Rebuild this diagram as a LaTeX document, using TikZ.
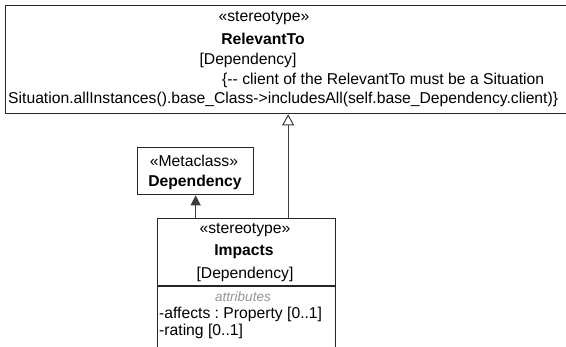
\documentclass[tikz,border=0pt]{standalone}
\usepackage{fontspec}
\setmainfont{Liberation Sans}
\usepackage{xcolor}
\usepackage{tikz}
\usetikzlibrary{arrows.meta, positioning}
\definecolor{linegray}{RGB}{60, 60, 60}
\definecolor{attrgray}{RGB}{150, 150, 150}
\frenchspacing

\begin{document}
\begin{tikzpicture}[x=1pt, y=-1pt,
    umlbox/.style={rectangle, draw=black!85, fill=white, line width=1.3pt, anchor=north west, inner sep=0pt},
    txt/.style={inner sep=0pt, font=\fontsize{15.7}{17}\selectfont},
    boldtxt/.style={inner sep=0pt, font=\fontsize{15.7}{17}\selectfont\bfseries},
    attrtxt/.style={inner sep=0pt, text=attrgray, font=\fontsize{13.5}{15}\selectfont\itshape},
    extends/.style={draw=linegray, line width=1pt, -{Triangle[length=10pt, width=10pt]}},
    realizes/.style={draw=linegray, line width=1pt, -{Triangle[open, length=11pt, width=12pt, fill=white]}}]

    \useasboundingbox (0,0) rectangle (566,347);
    \clip (0,0) rectangle (566,347);

    % Stereotype RelevantTo
    \node[umlbox, minimum width=565pt, minimum height=108pt] (relevant) at (5,5) {};
    \node[txt] (rel_st) at (264,18) {«stereotype»};
    \node[boldtxt] (rel_name) at (263,39) {RelevantTo};
    \node[txt] (rel_base) at (248,60) {[Dependency]};
    \node[txt, anchor=west] (rel_c1) at (222,80) {\{{-}{-} client of the RelevantTo must be a Situation};
    \node[txt, anchor=west] (rel_c2) at (8,99) {Situation.allInstances().base\_Class->includesAll(self.base\_Dependency.client)\}};

    % Metaclass Dependency
    \node[umlbox, minimum width=116pt, minimum height=47pt] (dep) at (137,147) {};
    \node[txt] (dep_st) at (194,161) {«Metaclass»};
    \node[boldtxt] (dep_name) at (195,182) {Dependency};

    % Stereotype Impacts
    \node[umlbox, minimum width=178pt, minimum height=150pt] (impacts) at (157,218) {};
    \draw[draw=black!85, line width=1.3pt] (impacts.west |- 0,286) -- (impacts.east |- 0,286);
    \node[txt] (imp_st) at (245,230) {«stereotype»};
    \node[boldtxt] (imp_name) at (244,252) {Impacts};
    \node[txt] (imp_base) at (245,274) {[Dependency]};
    \node[attrtxt] (imp_attr) at (243,297) {attributes};
    \node[txt, anchor=west] (imp_a1) at (159,314) {-affects : Property [0..1]};
    \node[txt, anchor=west] (imp_a2) at (159,331) {-rating [0..1]};

    % Links
    \draw[extends] (impacts.north -| dep.south) -- (dep.south);
    \draw[realizes] (impacts.north -| relevant.south) -- (relevant.south);
\end{tikzpicture}
\end{document}
